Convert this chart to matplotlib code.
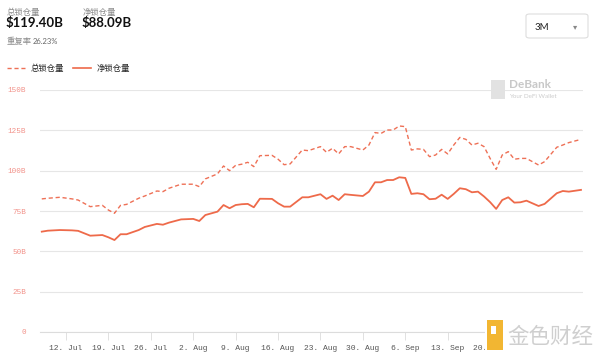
import matplotlib
matplotlib.use("Agg")
import matplotlib.pyplot as plt
from matplotlib.patches import FancyBboxPatch, Rectangle
import pandas as pd

plt.rcParams['font.family'] = ['Lato', 'Noto Sans CJK SC', 'DejaVu Sans']

# ---------------- data ----------------
dates = ["2021-07-08", "2021-07-09", "2021-07-11", "2021-07-13", "2021-07-14", "2021-07-16",
         "2021-07-18", "2021-07-19", "2021-07-20", "2021-07-21", "2021-07-22", "2021-07-24",
         "2021-07-25", "2021-07-27", "2021-07-28", "2021-07-29", "2021-07-31", "2021-08-02",
         "2021-08-03", "2021-08-04", "2021-08-06", "2021-08-07", "2021-08-08", "2021-08-09",
         "2021-08-10", "2021-08-11", "2021-08-12", "2021-08-13", "2021-08-15", "2021-08-16",
         "2021-08-17", "2021-08-18", "2021-08-20", "2021-08-21", "2021-08-23", "2021-08-24",
         "2021-08-25", "2021-08-26", "2021-08-27", "2021-08-28", "2021-08-30", "2021-08-31",
         "2021-09-01", "2021-09-02", "2021-09-03", "2021-09-04", "2021-09-05", "2021-09-06",
         "2021-09-07", "2021-09-08", "2021-09-09", "2021-09-10", "2021-09-11", "2021-09-12",
         "2021-09-13", "2021-09-14", "2021-09-15", "2021-09-16", "2021-09-17", "2021-09-18",
         "2021-09-19", "2021-09-20", "2021-09-21", "2021-09-22", "2021-09-23", "2021-09-24",
         "2021-09-25", "2021-09-26", "2021-09-28", "2021-09-29", "2021-10-01", "2021-10-02",
         "2021-10-03", "2021-10-05"]

total_tvl = [82.5, 82.9, 83.5, 82.5, 81.8, 77.7,
             78.5, 75.6, 73.6, 78.5, 79.1, 82.9,
             84.3, 87.4, 87.0, 89.1, 91.6, 91.6,
             90.1, 94.9, 98.0, 102.9, 100.0, 103.3,
             104.0, 105.2, 102.5, 109.3, 109.5, 107.1,
             103.7, 104.2, 112.8, 112.4, 114.9, 111.4,
             113.9, 110.4, 114.9, 114.9, 112.8, 115.9,
             123.6, 123.1, 125.2, 125.2, 127.7, 127.3,
             112.8, 113.5, 113.2, 108.7, 109.7, 113.2,
             110.4, 115.9, 120.6, 119.4, 115.9, 117.0,
             114.9, 107.6, 100.8, 109.7, 111.8, 107.1,
             107.6, 107.6, 103.5, 105.6, 114.5, 115.9,
             117.4, 119.4]

net_tvl = [62.2, 62.8, 63.2, 63.0, 62.7, 59.7,
           60.1, 58.7, 57.0, 60.6, 60.6, 63.2,
           65.1, 67.0, 66.5, 67.8, 69.8, 70.1,
           68.8, 72.5, 74.6, 78.7, 76.7, 78.7,
           79.2, 79.4, 77.3, 82.6, 82.5, 79.8,
           77.7, 77.7, 83.5, 83.5, 85.4, 82.5,
           84.5, 81.8, 85.4, 85.0, 84.3, 87.0,
           92.8, 92.8, 94.2, 94.2, 95.9, 95.5,
           85.6, 86.0, 85.4, 82.3, 82.6, 85.1,
           82.5, 85.6, 89.1, 88.5, 86.6, 87.0,
           84.0, 80.5, 76.3, 81.8, 83.5, 80.2,
           80.4, 81.4, 78.1, 79.4, 86.0, 87.4,
           87.0, 88.09]

y_ticks = [0, 25, 50, 75, 100, 125, 150]
y_tick_labels = ["0", "25B", "50B", "75B", "100B", "125B", "150B"]
x_tick_dates = ["2021-07-12", "2021-07-19", "2021-07-26", "2021-08-02", "2021-08-09",
                "2021-08-16", "2021-08-23", "2021-08-30", "2021-09-06", "2021-09-13",
                "2021-09-20"]
x_tick_labels = ["12. Jul", "19. Jul", "26. Jul", "2. Aug", "9. Aug", "16. Aug", "23. Aug",
                 "30. Aug", "6. Sep", "13. Sep", "20. Sep"]

header_total_label = "总锁仓量"
header_total_value = "$119.40B"
header_net_label = "净锁仓量"
header_net_value = "$88.09B"
dup_label = "重复率"
dup_value = "26.23%"
series_names = ["总锁仓量", "净锁仓量"]

# ---------------- figure ----------------
W, H = 600, 358
fig = plt.figure(figsize=(W / 100, H / 100), dpi=100)
fig.patch.set_facecolor("white")

def fx(px):
    return px / W

def fy(py):
    return 1 - py / H

ax = fig.add_axes([fx(40), fy(332), fx(583) - fx(40), fy(90) - fy(332)])
x = pd.to_datetime(dates)
line_color = "#EE6A4A"
ax.plot(x, total_tvl, color="#EE7056", lw=1.0, ls=(0, (3, 2)), zorder=3)
ax.plot(x, net_tvl, color=line_color, lw=1.3, zorder=3)

ax.set_ylim(0, 150)
ax.set_xlim(pd.Timestamp("2021-07-07 17:00"), pd.Timestamp("2021-10-05 08:00"))
ax.set_yticks(y_ticks)
ax.set_yticklabels(y_tick_labels)
ax.set_xticks(pd.to_datetime(x_tick_dates))
ax.set_xticklabels(x_tick_labels)

ax.grid(axis="y", color="#e6e6e6", lw=0.8)
ax.set_axisbelow(True)
for s in ["top", "right", "left"]:
    ax.spines[s].set_visible(False)
ax.spines["bottom"].set_color("#dcdcdc")
ax.spines["bottom"].set_linewidth(0.8)
ax.tick_params(axis="y", length=0, pad=10, labelsize=5.5, labelcolor="#F2928A")
ax.tick_params(axis="x", length=6, width=0.6, color="#dcdcdc", pad=3,
               labelsize=5.8, labelcolor="#555555")
for lab in ax.get_yticklabels() + ax.get_xticklabels():
    lab.set_family("Liberation Mono")
for lab in ax.get_yticklabels():
    lab.set_horizontalalignment("right")

# ---------------- header ----------------
grey = "#8a8a8a"
fig.text(fx(7), fy(12), header_total_label, fontsize=6, color=grey, va="center")
fig.text(fx(6), fy(23), header_total_value, fontsize=9.5, color="#111111", va="center",
         weight="bold")
fig.text(fx(83), fy(12), header_net_label, fontsize=6, color=grey, va="center")
fig.text(fx(82), fy(23), header_net_value, fontsize=9.5, color="#111111", va="center",
         weight="bold")
fig.text(fx(7), fy(41), dup_label, fontsize=6, color=grey, va="center")
fig.text(fx(33), fy(41), dup_value, fontsize=5.5, color="#666666", va="center")

# legend
fig.add_artist(plt.Line2D([fx(7), fx(25)], [fy(68), fy(68)], color="#EE7056", lw=1.0,
                          ls=(0, (3, 2)), transform=fig.transFigure))
fig.text(fx(31), fy(68), series_names[0], fontsize=6, color="#222222", va="center")
fig.add_artist(plt.Line2D([fx(73), fx(91)], [fy(68), fy(68)], color=line_color, lw=1.2,
                          transform=fig.transFigure))
fig.text(fx(97), fy(68), series_names[1], fontsize=6, color="#222222", va="center")

# range selector box
box = FancyBboxPatch((fx(526), fy(38)), fx(588) - fx(526), fy(14) - fy(38),
                     boxstyle="round,pad=0,rounding_size=0.006", transform=fig.transFigure,
                     facecolor="white", edgecolor="#dddddd", lw=0.8)
fig.add_artist(box)
fig.text(fx(535), fy(27), "3M", fontsize=7, color="#222222", va="center")
fig.text(fx(575), fy(27), "▾", fontsize=6, color="#888888", va="center", ha="center")

# DeBank watermark
fig.add_artist(Rectangle((fx(491), fy(99)), fx(14), fy(80) - fy(99), transform=fig.transFigure,
                         facecolor="#e2e2e2", edgecolor="none"))
fig.text(fx(509), fy(85), "DeBank", fontsize=8.5, color="#c8c8c8", va="center", weight="bold")
fig.text(fx(509), fy(96), "Your DeFi Wallet", fontsize=4.5, color="#cccccc", va="center")

# bottom-right watermark (opaque, covers the end of the date axis)
fig.add_artist(Rectangle((fx(485), fy(356)), fx(600) - fx(485), fy(318) - fy(356),
                         transform=fig.transFigure, facecolor="white", edgecolor="none",
                         zorder=5))
fig.add_artist(Rectangle((fx(487), fy(350)), fx(16), fy(320) - fy(350), transform=fig.transFigure,
                         facecolor="#F2B632", edgecolor="none", zorder=6))
fig.add_artist(Rectangle((fx(491), fy(334)), fx(5), fy(326) - fy(334), transform=fig.transFigure,
                         facecolor="white", edgecolor="none", zorder=7))
fig.text(fx(507), fy(337), "金色财经", fontsize=15.5, color="#cfcfcf", va="center",
         family=["Noto Sans CJK SC", "DejaVu Sans"], zorder=8)

fig.savefig("out.png", dpi=100, facecolor="white")
